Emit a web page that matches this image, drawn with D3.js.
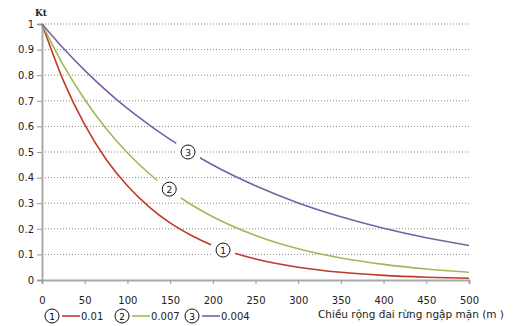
<!DOCTYPE html>
<html><head><meta charset="utf-8">
<script src="https://cdn.jsdelivr.net/npm/d3@7"></script>
<style>body{margin:0;background:#fff}svg{display:block}</style>
</head><body>
<svg id="c" width="524" height="326"></svg>
<script>
const xTicks = [0,50,100,150,200,250,300,350,400,450,500];
const yTicks = [0,0.1,0.2,0.3,0.4,0.5,0.6,0.7,0.8,0.9,1];
const xs = [0,25,50,75,100,125,150,175,200,250,300,350,400,450,500];
const red    = [1,0.779,0.607,0.472,0.368,0.287,0.223,0.174,0.135,0.082,0.050,0.030,0.018,0.011,0.007];
const green  = [1,0.839,0.705,0.592,0.497,0.417,0.350,0.294,0.247,0.174,0.122,0.086,0.061,0.043,0.030];
const purple = [1,0.905,0.819,0.741,0.670,0.607,0.549,0.497,0.449,0.368,0.301,0.247,0.202,0.165,0.135];
const seriesNames = ["0.01","0.007","0.004"];
const seriesLabels = ["1","2","3"];
const colors = ["#c0392b","#9bbb59","#7b5fa6"];
const labelPos = [[212,0.117],[149,0.355],[171,0.5]];

const svg = d3.select("#c");
const font = "DejaVu Sans, Verdana, sans-serif";
const x = d3.scaleLinear().domain([0,500]).range([42,469]);
const y = d3.scaleLinear().domain([0,1]).range([280,24]);

// gridlines
svg.append("g").selectAll("line").data(yTicks.filter(d=>d>0)).join("line")
  .attr("x1",x(0)).attr("x2",471).attr("y1",d=>y(d)).attr("y2",d=>y(d))
  .attr("stroke","#888").attr("stroke-width",1).attr("stroke-dasharray","1,2");

// axes
const ya = svg.append("g").attr("transform",`translate(${x(0)},0)`)
  .call(d3.axisLeft(y).tickValues(yTicks).tickSize(5).tickPadding(3).tickFormat(d=>d===0?"0":d===1?"1":d3.format(".1f")(d)));
const xa = svg.append("g").attr("transform",`translate(0,${y(0)})`)
  .call(d3.axisBottom(x).tickValues(xTicks).tickSize(4).tickPadding(13));
[ya,xa].forEach(a=>{
  a.select(".domain").attr("stroke","#aaa").attr("stroke-width",2);
  a.selectAll(".tick line").attr("stroke","#999");
  a.selectAll("text").attr("font-family",font).attr("font-size",10).attr("fill","#222");
});

// lines
const line = d3.line().x((d,i)=>x(xs[i])).y(d=>y(d)).curve(d3.curveMonotoneX);
[red,green,purple].forEach((s,k)=>{
  svg.append("path").datum(s).attr("d",line).attr("fill","none")
    .attr("stroke",colors[k]).attr("stroke-width",1.6);
});

// on-curve labels
labelPos.forEach((p,k)=>{
  const cx = x(p[0]), cy = y(p[1]);
  svg.append("rect").attr("x",cx-12).attr("y",cy-9).attr("width",24).attr("height",18).attr("fill","#fff");
  svg.append("circle").attr("cx",cx).attr("cy",cy).attr("r",7).attr("fill","#fff").attr("stroke","#111").attr("stroke-width",1);
  svg.append("text").attr("x",cx).attr("y",cy+3.5).attr("text-anchor","middle")
    .attr("font-family",font).attr("font-size",9).attr("fill","#111").text(seriesLabels[k]);
});

// title Kt
svg.append("text").attr("x",35).attr("y",16).attr("font-family","DejaVu Serif, serif").attr("font-weight","bold")
  .attr("font-size",9).attr("fill","#222").text("Kt");

// legend
const lx = [52,122,192];
seriesNames.forEach((n,k)=>{
  const g = svg.append("g").attr("transform",`translate(${lx[k]},316)`);
  g.append("circle").attr("cx",0).attr("cy",0).attr("r",7).attr("fill","#fff").attr("stroke","#111");
  g.append("text").attr("x",0).attr("y",3.5).attr("text-anchor","middle").attr("font-family",font).attr("font-size",9).text(seriesLabels[k]);
  g.append("line").attr("x1",10).attr("x2",28).attr("y1",0).attr("y2",0).attr("stroke",colors[k]).attr("stroke-width",1.6);
  g.append("text").attr("x",29).attr("y",4).attr("font-family",font).attr("font-size",10).attr("fill","#222").text(n);
});

svg.append("text").attr("x",318).attr("y",318).attr("font-family",font).attr("font-size",10.5).attr("fill","#222")
  .text("Chiều rộng đai rừng ngập mặn (m )");
</script>
</body></html>
